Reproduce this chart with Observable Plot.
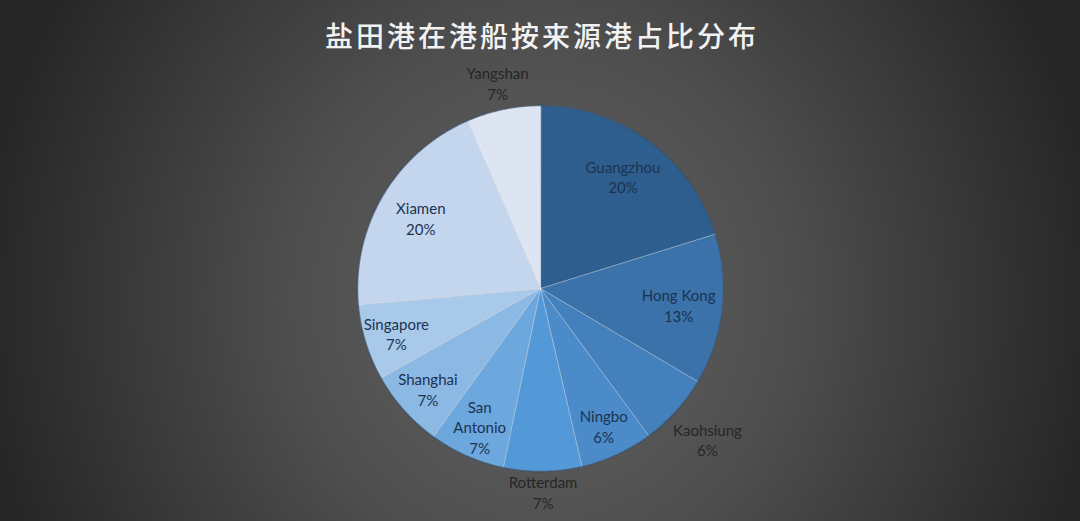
<!DOCTYPE html>
<html>
<head>
<meta charset="utf-8">
<script src="https://cdn.jsdelivr.net/npm/d3@7"></script>
<script src="https://cdn.jsdelivr.net/npm/@observablehq/plot@0.6"></script>
<style>
  html, body { margin: 0; padding: 0; background: #2a2a2a; }
  #chart svg { display: block; }
</style>
</head>
<body>
<div id="chart"></div>
<script>
const title = "盐田港在港船按来源港占比分布";
const categories = ["Guangzhou", "Hong Kong", "Kaohsiung", "Ningbo", "Rotterdam", "San Antonio", "Shanghai", "Singapore", "Xiamen", "Yangshan"];
const labelNames = ["Guangzhou", "Hong Kong", "Kaohsiung", "Ningbo", "Rotterdam", "San\nAntonio", "Shanghai", "Singapore", "Xiamen", "Yangshan"];
const values = [20.2, 13.3, 6.4, 6.45, 6.9, 6.7, 6.9, 6.7, 19.9, 6.55];
const percentLabels = ["20%", "13%", "6%", "6%", "7%", "7%", "7%", "7%", "20%", "7%"];
const sliceColors = ["#2e5e8e", "#3a72a9", "#4380bc", "#4b8bca", "#5398d7", "#6ca8de", "#8cb9e4", "#a9c9ea", "#c4d6ed", "#dce5f1"];
const outsideLabels = ["Kaohsiung", "Rotterdam", "Yangshan"];

const W = 1080, H = 521;
const CX = 540, CY = 288, R = 183;

const rows = categories.map((c, i) => ({category: c, value: values[i], name: labelNames[i], pct: percentLabels[i]}));
const arcs = d3.pie().sort(null).value(d => d.value)(rows);
const total = d3.sum(values);

const pt = (a, r) => [r * Math.sin(a), -r * Math.cos(a)];

const slices = arcs.map(a => {
  const n = Math.max(8, Math.ceil((a.endAngle - a.startAngle) / 0.01));
  const ring = [[0, 0]];
  for (let k = 0; k <= n; k++) ring.push(pt(a.startAngle + (a.endAngle - a.startAngle) * k / n, 1));
  ring.push([0, 0]);
  return {type: "Feature", properties: {category: a.data.category}, geometry: {type: "Polygon", coordinates: [ring]}};
});

// outer rim of the pie, traced along the same arcs
const rimCoords = [];
arcs.forEach(a => {
  const n = Math.max(8, Math.ceil((a.endAngle - a.startAngle) / 0.01));
  for (let k = 0; k <= n; k++) rimCoords.push(pt(a.startAngle + (a.endAngle - a.startAngle) * k / n, 1));
});
const rim = {type: "LineString", coordinates: rimCoords};

const labels = arcs.map(a => {
  const mid = (a.startAngle + a.endAngle) / 2;
  const outside = outsideLabels.includes(a.data.category);
  let r;
  if (outside) {
    const hw = 36 / R, hh = 14 / R;
    r = 1 + 6 / R + Math.abs(Math.sin(mid)) * hw + Math.abs(Math.cos(mid)) * hh;
  } else {
    r = a.data.value / total > 0.1 ? 0.76 : 0.825;
  }
  const [x, y] = pt(mid, r);
  return {x, y, text: a.data.name + "\n" + a.data.pct, outside};
});

const chart = Plot.plot({
  width: W,
  height: H,
  margin: 0,
  projection: () => d3.geoIdentity().scale(R).translate([CX, CY]),
  color: {domain: categories, range: sliceColors},
  style: {
    background: "radial-gradient(ellipse 560px 600px at 540px 300px, #646464 0%, #4e4e4e 45%, #262626 100%)",
    fontFamily: "Lato, 'Open Sans', sans-serif"
  },
  marks: [
    Plot.geo(slices, {fill: d => d.properties.category, stroke: "#e8eef6", strokeOpacity: 0.4, strokeWidth: 1}),
    Plot.geo(rim, {stroke: "#23364d", strokeOpacity: 0.6, strokeWidth: 1.5, fill: "none"}),
    Plot.text(labels.filter(d => !d.outside), {x: "x", y: "y", text: "text", fill: "#1b3352", fontSize: 15, lineHeight: 1.38}),
    Plot.text(labels.filter(d => d.outside), {x: "x", y: "y", text: "text", fill: "#262626", fontSize: 15, lineHeight: 1.38}),
    Plot.text([title], {frameAnchor: "top", dy: 38, lineAnchor: "middle", text: d => d, fill: "#f2f2f2", fontSize: 28, fontFamily: "'Noto Sans CJK SC', sans-serif", fontWeight: 500})
  ]
});
// widen the title's letter spacing as in the original
d3.select(chart).selectAll("text").filter(function() { return this.textContent === title; })
  .style("letter-spacing", "3px").attr("dx", 1.5);
document.getElementById("chart").appendChild(chart);
</script>
</body>
</html>
